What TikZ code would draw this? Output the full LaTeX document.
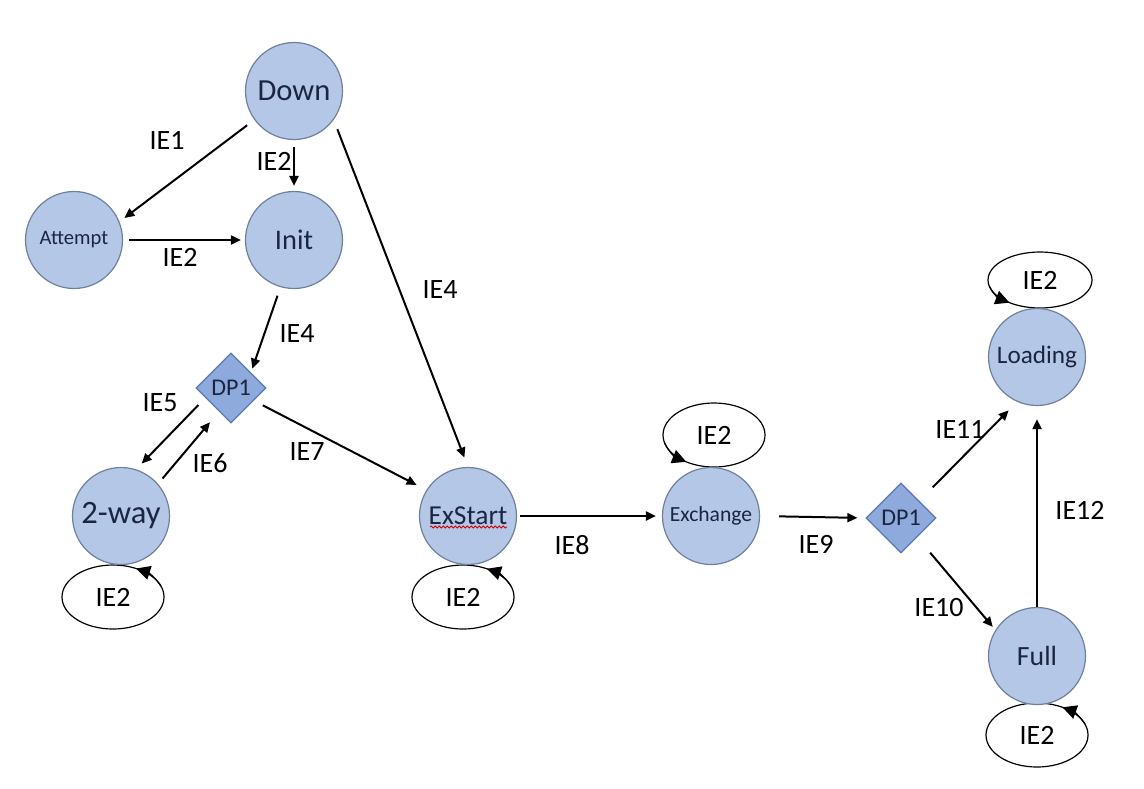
\documentclass[tikz,border=0pt]{standalone}
\usepackage{fontspec}
\setmainfont{Carlito}
\usepackage{xcolor}
\usepackage{tikz}
\usetikzlibrary{shapes,arrows,positioning,calc,decorations.pathmorphing,arrows.meta}

\definecolor{stateblue}{HTML}{B4C7E7}
\definecolor{ringblue}{HTML}{6F809C}
\definecolor{dpblue}{HTML}{8EA9DB}
\definecolor{dpline}{HTML}{5B79B0}
\definecolor{navytext}{HTML}{1A2542}

\begin{document}
\begin{tikzpicture}[x=0.5pt,y=-0.5pt,
    state/.style={circle, draw=ringblue, line width=0.6pt, fill=stateblue, minimum size=48.5pt, inner sep=0pt, text=navytext},
    decide/.style={diamond, draw=dpline, line width=0.6pt, fill=dpblue, minimum size=35pt, aspect=1, inner sep=0pt, text=navytext, font=\fontsize{12}{14}\selectfont},
    selfloop/.style={ellipse, draw=black, line width=0.6pt, fill=white, minimum width=51pt, minimum height=32pt, inner sep=0pt, font=\fontsize{14}{16}\selectfont},
    trans/.style={-{Triangle[length=5pt,width=4.5pt]}, line width=1pt},
    looptip/.style={-{Triangle[length=7pt,width=7pt]}, line width=0.6pt},
    lbl/.style={font=\fontsize{14}{16}\selectfont}]

    \fill[white] (0,0) rectangle (1144,788);
    \useasboundingbox (0,0) rectangle (1144,788);

    % Self loops
    \node[selfloop] (lw) at (113,597) {IE2};
    \node[selfloop] (le) at (463,597) {IE2};
    \node[selfloop] (lx) at (714,435) {IE2};
    \node[selfloop, minimum width=52pt, minimum height=28pt] (ll) at (1040,280) {IE2};
    \node[selfloop] (lf) at (1037,735) {IE2};

    % States
    \node[state, font=\fontsize{15.3}{17}\selectfont] (down) at (294,91) {Down};
    \node[state, font=\fontsize{10.3}{12}\selectfont] (attempt) at (74,240) {Attempt};
    \node[state, font=\fontsize{14.2}{16}\selectfont] (init) at (294,240) {Init};
    \node[decide] (dpa) at (231,388) {DP1};
    \node[state, font=\fontsize{16.3}{18}\selectfont] (twoway) at (121,516) {2-way};
    \node[state, font=\fontsize{13.7}{16}\selectfont] (exstart) at (468,516) {ExStart};
    \node[state, font=\fontsize{10.8}{12}\selectfont] (exchange) at (711,516) {Exchange};
    \node[decide] (dpb) at (901,518) {DP1};
    \node[state, font=\fontsize{12.6}{14}\selectfont] (loading) at (1037,357) {Loading};
    \node[state, font=\fontsize{13.9}{16}\selectfont] (full) at (1037,656) {Full};
    \draw[red!80!black, line width=0.4pt, decorate, decoration={snake, amplitude=0.5pt, segment length=2pt}]
        ([shift={(-38,11)}]exstart.center) -- ([shift={(39,11)}]exstart.center);

    % Loop arrow heads
    \draw[looptip] ([shift={(20:25.5pt and 16pt)}]lw.center) arc[start angle=20, end angle=63, x radius=25.5pt, y radius=16pt];
    \draw[looptip] ([shift={(20:25.5pt and 16pt)}]le.center) arc[start angle=20, end angle=62, x radius=25.5pt, y radius=16pt];
    \draw[looptip] ([shift={(195:25.5pt and 16pt)}]lx.center) arc[start angle=195, end angle=237, x radius=25.5pt, y radius=16pt];
    \draw[looptip] ([shift={(193:26pt and 14pt)}]ll.center) arc[start angle=193, end angle=234, x radius=26pt, y radius=14pt];
    \draw[looptip] ([shift={(20:25.5pt and 16pt)}]lf.center) arc[start angle=20, end angle=60, x radius=25.5pt, y radius=16pt];

    % Transitions
    \draw[trans, shorten <=4.5pt, shorten >=3pt] (down.216) -- (attempt.22);
    \draw[trans, shorten <=3.5pt, shorten >=2.5pt] (down.south) -- (init.north);
    \draw[trans, shorten <=3pt, shorten >=2pt] (attempt.east) -- (init.west);
    \draw[trans, shorten <=4.5pt, shorten >=2pt] (init.254) -- (dpa.38);
    \draw[trans, shorten <=5pt, shorten >=4pt] (dpa.201) -- (twoway.72);
    \draw[trans, shorten <=3.5pt, shorten >=7pt] (twoway.41) -- (dpa.243);
    \draw[trans, shorten <=5pt, shorten >=5.5pt] (dpa.331) -- (exstart.148);
    \draw[trans, shorten <=5pt, shorten >=5pt] (down.324) -- (exstart.north);
    \draw[trans, shorten <=1.5pt, shorten >=3pt] (exstart.east) -- (exchange.west);
    \draw[trans, shorten <=9.5pt, shorten >=4pt] (exchange.east) -- (dpb.west);
    \draw[trans, shorten <=9.5pt, shorten >=6pt] (dpb.43) -- (loading.246);
    \draw[trans, shorten <=10pt, shorten >=2pt] (dpb.310) -- (full.148);
    \draw[trans, shorten >=6.5pt] (full.north) -- (loading.south);

    % Labels
    \node[lbl] (lab1) at (167,140) {IE1};
    \node[lbl] (lab2) at (274,161) {IE2};
    \node[lbl] (lab3) at (180,257) {IE2};
    \node[lbl] (lab4) at (297,334) {IE4};
    \node[lbl] (lab5) at (440,290) {IE4};
    \node[lbl] (lab6) at (160,403) {IE5};
    \node[lbl] (lab7) at (210,463) {IE6};
    \node[lbl] (lab8) at (307,452) {IE7};
    \node[lbl] (lab9) at (572,545) {IE8};
    \node[lbl] (lab10) at (816,544) {IE9};
    \node[lbl] (lab11) at (960,429) {IE11};
    \node[lbl] (lab12) at (1080,510) {IE12};
    \node[lbl] (lab13) at (939,607) {IE10};
\end{tikzpicture}
\end{document}
